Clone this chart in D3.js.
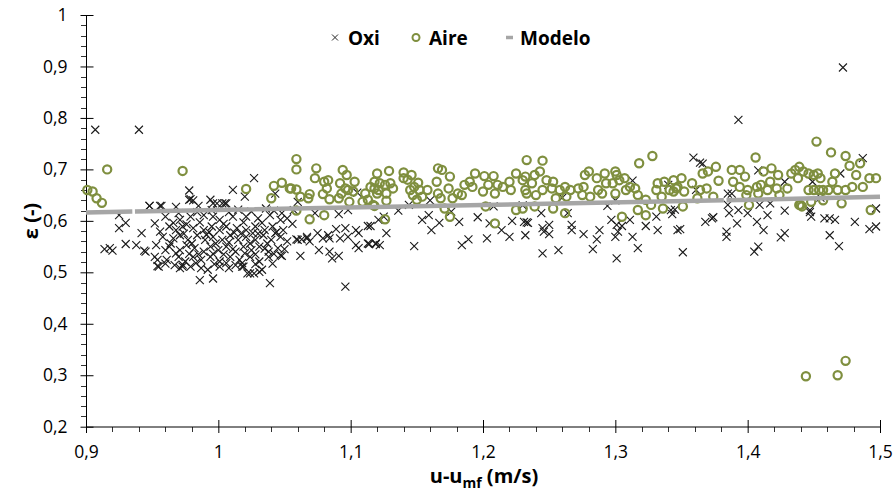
<!DOCTYPE html>
<html>
<head>
<meta charset="utf-8">
<script src="https://cdn.jsdelivr.net/npm/d3@7"></script>
<style>
  body { margin: 0; background: #fff; }
  text { font-family: "Open Sans", sans-serif; }
</style>
</head>
<body>
<script>
// axis ticks
const xTicks = [0.9, 1.0, 1.1, 1.2, 1.3, 1.4, 1.5];
const xTickLabels = ["0,9", "1", "1,1", "1,2", "1,3", "1,4", "1,5"];
const yTicks = [0.2, 0.3, 0.4, 0.5, 0.6, 0.7, 0.8, 0.9, 1.0];
const yTickLabels = ["0,2", "0,3", "0,4", "0,5", "0,6", "0,7", "0,8", "0,9", "1"];

// Oxi series [u-umf, eps]
const oxi = [
  [0.907,0.777],[0.940,0.777],[1.472,0.898],[1.393,0.796],[1.487,0.722],
  [0.925,0.611],[0.930,0.596],[0.925,0.586],[0.952,0.595],[0.948,0.629],[0.942,0.576],[0.930,0.555],[0.938,0.553],
  [0.914,0.545],[0.918,0.547],[0.920,0.542],[0.944,0.542],[0.952,0.530],[0.954,0.524],[0.954,0.512],[0.957,0.629],
  [0.953,0.553],[0.945,0.540],
  [0.978,0.659],[0.979,0.642],[0.981,0.640],[1.011,0.660],[0.968,0.627],[0.994,0.641],[0.996,0.634],[1.003,0.634],
  [1.005,0.634],[1.027,0.683],[1.020,0.647],[1.043,0.653],[1.060,0.637],[1.057,0.621],[1.048,0.615],[1.073,0.615],
  [1.091,0.613],[1.098,0.621],[1.121,0.602],
  [0.960,0.543],[0.960,0.517],[0.967,0.514],[0.973,0.511],[0.986,0.485],[0.996,0.488],[0.987,0.508],[1.008,0.508],
  [1.039,0.479],[1.096,0.472],[1.031,0.501],[1.024,0.498],[1.019,0.511],
  // dense cluster
  [0.978,0.641],[0.999,0.634],[1.006,0.634],[0.948,0.629],[0.956,0.629],[0.985,0.629],[0.995,0.621],[1.036,0.624],
  [0.960,0.608],[0.971,0.602],[0.979,0.608],[0.989,0.611],[0.996,0.608],[1.001,0.602],[1.011,0.608],[1.021,0.608],
  [1.030,0.605],[1.039,0.611],[1.047,0.602],
  [0.963,0.589],[0.968,0.582],[0.973,0.589],[0.981,0.586],[0.989,0.582],[0.995,0.589],[1.001,0.582],[1.006,0.589],
  [1.014,0.586],[1.021,0.582],[1.028,0.589],[1.035,0.582],[1.041,0.589],[1.049,0.582],[0.956,0.579],
  [0.958,0.569],[0.966,0.566],[0.971,0.572],[0.977,0.563],[0.984,0.572],[0.990,0.563],[0.996,0.569],[1.003,0.563],
  [1.009,0.572],[1.015,0.563],[1.021,0.569],[1.028,0.563],[1.034,0.572],[1.040,0.563],[1.047,0.569],[1.052,0.560],
  [1.060,0.563],[1.067,0.566],
  [0.963,0.550],[0.971,0.543],[0.976,0.553],[0.982,0.547],[0.989,0.540],[0.994,0.550],[1.000,0.543],[1.006,0.550],
  [1.013,0.540],[1.019,0.550],[1.025,0.543],[1.031,0.550],[1.038,0.540],[1.045,0.547],
  [0.961,0.524],[0.970,0.530],[0.975,0.521],[0.981,0.530],[0.987,0.524],[0.994,0.530],[1.001,0.521],[1.009,0.530],
  [1.016,0.524],[1.024,0.530],[1.031,0.521],[1.038,0.530],[1.047,0.533],
  [0.955,0.511],[0.971,0.508],[0.979,0.511],[0.992,0.505],[1.001,0.511],[1.018,0.511],[1.022,0.498],[1.027,0.498],
  [1.033,0.505],[1.018,0.518],
  [0.966,0.596],[0.976,0.593],[0.986,0.597],[0.993,0.578],[1.004,0.594],[1.012,0.577],[1.019,0.597],[1.026,0.576],
  [1.033,0.596],[1.044,0.578],[1.056,0.594],
  [0.964,0.556],[0.974,0.575],[0.980,0.556],[0.991,0.573],[0.998,0.556],[1.008,0.558],[1.017,0.575],[1.024,0.556],
  [1.030,0.575],[1.037,0.556],[1.043,0.576],[1.050,0.545],
  [0.968,0.537],[0.978,0.536],[0.985,0.535],[0.996,0.536],[1.004,0.535],[1.011,0.545],[1.020,0.537],[1.028,0.535],
  [1.035,0.546],[1.042,0.536],
  [0.973,0.515],[0.983,0.518],[0.997,0.516],[1.006,0.518],[1.013,0.514],[1.028,0.516],[1.041,0.517],
  [0.970,0.615],[0.984,0.617],[1.008,0.617],[1.015,0.622],[1.025,0.618],[1.042,0.620],[1.052,0.605],
  // 1.05 - 1.12
  [1.059,0.564],[1.063,0.564],[1.067,0.569],[1.069,0.560],[1.075,0.576],[1.079,0.566],[1.083,0.572],[1.084,0.566],
  [1.089,0.584],[1.092,0.566],[1.098,0.569],[1.096,0.586],[1.104,0.582],[1.106,0.576],[1.104,0.553],[1.106,0.547],
  [1.113,0.590],[1.113,0.556],[1.119,0.556],[1.076,0.543],[1.084,0.540],[1.086,0.527],[1.091,0.532],[1.062,0.532],
  [1.048,0.532],
  // 1.12 - 1.23
  [1.136,0.620],[1.144,0.631],[1.125,0.608],[1.154,0.602],[1.159,0.611],[1.167,0.596],[1.161,0.582],[1.127,0.576],
  [1.115,0.590],[1.119,0.555],[1.114,0.555],[1.148,0.551],[1.176,0.618],[1.182,0.598],[1.184,0.553],[1.189,0.564],
  [1.196,0.607],[1.203,0.566],[1.205,0.595],[1.208,0.628],[1.214,0.582],[1.220,0.569],[1.222,0.600],[1.231,0.598],
  [1.233,0.597],[1.232,0.572],[1.122,0.553],
  // 1.23 - 1.35
  [1.234,0.596],[1.245,0.586],[1.250,0.592],[1.246,0.579],[1.250,0.574],[1.245,0.537],[1.257,0.543],[1.244,0.615],
  [1.264,0.615],[1.267,0.592],[1.267,0.582],[1.276,0.574],[1.288,0.582],[1.286,0.564],[1.283,0.545],[1.294,0.629],
  [1.297,0.602],[1.301,0.592],[1.305,0.590],[1.302,0.579],[1.300,0.569],[1.311,0.602],[1.313,0.569],[1.301,0.527],
  [1.317,0.547],[1.323,0.590],[1.331,0.608],[1.332,0.582],[1.342,0.621],[1.343,0.613],[1.347,0.582],[1.313,0.678],
  // 1.35 - 1.5
  [1.359,0.723],[1.364,0.713],[1.366,0.711],[1.408,0.698],[1.361,0.660],[1.385,0.653],[1.388,0.653],[1.428,0.676],
  [1.449,0.676],[1.470,0.692],[1.345,0.622],[1.385,0.631],[1.386,0.615],[1.393,0.621],[1.400,0.615],[1.409,0.631],
  [1.417,0.634],[1.415,0.611],[1.428,0.620],[1.368,0.598],[1.373,0.605],[1.374,0.607],[1.392,0.595],[1.407,0.598],
  [1.412,0.582],[1.349,0.584],[1.384,0.579],[1.384,0.569],[1.425,0.568],[1.428,0.576],[1.351,0.539],[1.405,0.540],
  [1.408,0.550],[1.447,0.621],[1.448,0.608],[1.458,0.605],[1.462,0.605],[1.466,0.602],[1.462,0.572],[1.469,0.551],
  [1.497,0.624],[1.497,0.589],[1.492,0.584],[1.481,0.598],[1.447,0.617],
  [1.105,0.655],[1.160,0.640],[1.260,0.645],[1.340,0.670],[1.230,0.630],[1.455,0.645],[1.300,0.640]
];

// Aire series [u-umf, eps]
const aire = [
  [0.901,0.660],[0.905,0.657],[0.908,0.644],[0.912,0.635],[0.916,0.700],[0.973,0.697],
  [1.021,0.662],[1.040,0.644],[1.042,0.668],[1.048,0.674],[1.054,0.663],[1.059,0.661],[1.059,0.700],[1.059,0.720],
  [1.062,0.647],[1.059,0.620],[1.069,0.652],[1.068,0.644],[1.069,0.603],[1.074,0.702],[1.073,0.683],[1.080,0.676],
  [1.083,0.679],[1.082,0.663],[1.079,0.652],[1.084,0.642],[1.080,0.611],[1.055,0.663],
  [1.094,0.699],[1.097,0.689],[1.092,0.673],[1.096,0.663],[1.093,0.653],[1.098,0.660],[1.091,0.644],[1.099,0.637],
  [1.103,0.676],[1.102,0.657],[1.111,0.653],[1.113,0.641],[1.109,0.637],[1.120,0.692],[1.118,0.663],[1.120,0.653],
  [1.117,0.631],[1.122,0.673],[1.118,0.629],
  [1.129,0.697],[1.140,0.694],[1.146,0.689],[1.140,0.683],[1.143,0.680],[1.118,0.676],[1.115,0.666],[1.121,0.660],
  [1.126,0.670],[1.130,0.673],[1.132,0.663],[1.127,0.653],[1.127,0.639],[1.148,0.666],[1.151,0.674],[1.145,0.660],
  [1.152,0.660],[1.147,0.650],[1.154,0.647],[1.158,0.660],[1.150,0.641],[1.126,0.603],[1.166,0.702],[1.169,0.699],
  [1.165,0.676],[1.175,0.686],[1.166,0.653],[1.168,0.644],[1.174,0.663],[1.177,0.644],[1.181,0.653],[1.171,0.624],
  [1.175,0.608],[1.186,0.670],[1.190,0.676],[1.194,0.692],[1.192,0.666],[1.184,0.650],[1.201,0.687],[1.208,0.687],
  [1.204,0.670],[1.200,0.657],[1.211,0.670],[1.209,0.653],[1.215,0.666],[1.220,0.676],[1.225,0.692],[1.230,0.679],
  [1.233,0.718],[1.232,0.660],[1.202,0.628],[1.209,0.595],[1.225,0.621],[1.221,0.660],
  [1.245,0.717],[1.239,0.689],[1.232,0.686],[1.243,0.696],[1.248,0.679],[1.253,0.676],[1.237,0.673],[1.233,0.653],
  [1.240,0.650],[1.245,0.660],[1.252,0.663],[1.258,0.660],[1.262,0.666],[1.266,0.660],[1.255,0.644],[1.263,0.647],
  [1.239,0.628],[1.230,0.624],[1.253,0.624],[1.262,0.615],[1.272,0.663],[1.276,0.666],[1.280,0.696],[1.277,0.689],
  [1.275,0.650],[1.281,0.647],[1.287,0.660],[1.290,0.653],[1.286,0.683],[1.292,0.692],[1.300,0.696],[1.301,0.689],
  [1.293,0.673],[1.298,0.673],[1.303,0.679],[1.307,0.683],[1.300,0.653],[1.308,0.660],[1.305,0.608],[1.311,0.666],
  [1.315,0.663],[1.318,0.712],[1.328,0.726],[1.317,0.650],[1.323,0.641],[1.317,0.621],[1.323,0.611],[1.327,0.631],
  [1.332,0.673],[1.337,0.676],[1.331,0.660],[1.341,0.660],[1.344,0.679],[1.335,0.647],[1.336,0.624],[1.346,0.663],
  [1.452,0.754],[1.463,0.733],[1.474,0.726],[1.406,0.723],[1.350,0.683],[1.347,0.666],[1.344,0.657],[1.352,0.657],
  [1.358,0.673],[1.366,0.692],[1.370,0.696],[1.376,0.705],[1.378,0.678],[1.364,0.660],[1.369,0.663],[1.374,0.647],
  [1.362,0.644],[1.351,0.628],[1.388,0.699],[1.394,0.699],[1.398,0.686],[1.389,0.676],[1.394,0.666],[1.400,0.660],
  [1.399,0.650],[1.407,0.666],[1.410,0.670],[1.408,0.653],[1.401,0.631],[1.412,0.696],[1.418,0.702],[1.423,0.689],
  [1.417,0.676],[1.415,0.660],[1.422,0.663],[1.424,0.650],[1.430,0.663],[1.433,0.692],[1.436,0.699],[1.439,0.705],
  [1.438,0.683],[1.439,0.631],[1.442,0.696],[1.446,0.692],[1.450,0.689],[1.453,0.692],[1.455,0.683],[1.446,0.660],
  [1.450,0.660],[1.454,0.660],[1.457,0.660],[1.461,0.660],[1.466,0.692],[1.464,0.676],[1.468,0.660],[1.471,0.634],
  [1.474,0.660],[1.448,0.637],[1.457,0.640],[1.441,0.628],
  [1.444,0.298],[1.468,0.300],[1.474,0.328],[1.493,0.621],[1.497,0.683],[1.492,0.683],[1.485,0.712],[1.477,0.707],
  [1.482,0.689],[1.479,0.666],[1.487,0.666],[1.440,0.631]
];

// Modelo line (small breaks as in the source)
const modeloX = [0.900, 0.935, null, 0.937, 1.382, null, 1.384, 1.500];
const modeloY = [0.616, 0.618, null, 0.618, 0.640, null, 0.640, 0.647];

function drawChart() {
    let svg = d3.select("body").append("svg")
        .attr("width", 896)
        .attr("height", 493)
        .style("background-color", "white");

    let x = d3.scaleLinear().domain([0.9, 1.5]).range([86, 880]);
    let y = d3.scaleLinear().domain([0.2, 1.0]).range([426.7, 15]);

    // minor ticks every 0.02
    let xMinor = d3.range(0.92, 1.5, 0.02).filter(v => Math.abs(v * 10 - Math.round(v * 10)) > 0.01);
    let yMinor = d3.range(0.22, 1.0, 0.02).filter(v => Math.abs(v * 10 - Math.round(v * 10)) > 0.01);

    svg.append("g").selectAll("line").data(yMinor).enter().append("line")
        .attr("x1", 81).attr("x2", 86)
        .attr("y1", d => Math.round(y(d)) + 0.5).attr("y2", d => Math.round(y(d)) + 0.5)
        .attr("stroke", "#333").attr("stroke-width", 1);
    svg.append("g").selectAll("line").data(xMinor).enter().append("line")
        .attr("y1", 427).attr("y2", 432)
        .attr("x1", d => Math.round(x(d)) + 0.5).attr("x2", d => Math.round(x(d)) + 0.5)
        .attr("stroke", "#333").attr("stroke-width", 1);

    // y axis
    let yAxis = svg.append("g").attr("transform", "translate(86.5,0)")
        .call(d3.axisLeft(y).tickValues(yTicks).tickSize(6).tickPadding(13)
            .tickFormat((d, i) => yTickLabels[i]));
    yAxis.selectAll(".tick line").attr("x1", 7);
    yAxis.selectAll("text").style("font-size", "17.5px").attr("fill", "#000");
    yAxis.select(".domain").attr("d", "M0," + y(1.0) + "V" + y(0.2));

    // x axis
    let xAxis = svg.append("g").attr("transform", "translate(0,427)")
        .call(d3.axisBottom(x).tickValues(xTicks).tickSize(6).tickPadding(13)
            .tickFormat((d, i) => xTickLabels[i]));
    xAxis.selectAll(".tick line").attr("y1", -7);
    xAxis.selectAll("text").style("font-size", "17.5px").attr("fill", "#000");
    xAxis.select(".domain").attr("d", "M" + x(0.9) + ",0H" + x(1.5));

    // Oxi markers
    svg.append("g").selectAll("path").data(oxi).enter().append("path")
        .attr("transform", d => "translate(" + x(d[0]) + "," + y(d[1]) + ")")
        .attr("d", "M-4,-4L4,4M-4,4L4,-4")
        .attr("stroke", "#1a1a1a").attr("stroke-width", 1.1).attr("fill", "none");

    // Aire markers
    svg.append("g").selectAll("circle").data(aire).enter().append("circle")
        .attr("cx", d => x(d[0])).attr("cy", d => y(d[1])).attr("r", 4.1)
        .attr("fill", "none").attr("stroke", "#7f8f3f").attr("stroke-width", 2.2);

    // Modelo
    let modelo = modeloX.map((v, i) => [v, modeloY[i]]);
    let line = d3.line().defined(d => d[0] !== null)
        .x(d => x(d[0])).y(d => y(d[1]));
    svg.append("path").datum(modelo)
        .attr("d", line)
        .attr("fill", "none").attr("stroke", "#a6a6a6").attr("stroke-width", 4.5);

    // legend
    let lg = svg.append("g");
    lg.append("path").attr("transform", "translate(335,37.5)")
        .attr("d", "M-3,-3L3,3M-3,3L3,-3").attr("stroke", "#262626").attr("stroke-width", 1);
    lg.append("text").attr("x", 348).attr("y", 44.5).text("Oxi")
        .style("font-size", "19px").style("font-weight", "bold");
    lg.append("circle").attr("cx", 416).attr("cy", 37.5).attr("r", 3.5)
        .attr("fill", "none").attr("stroke", "#7f8f3f").attr("stroke-width", 2);
    lg.append("text").attr("x", 429).attr("y", 44.5).text("Aire")
        .style("font-size", "19px").style("font-weight", "bold");
    lg.append("line").attr("x1", 506).attr("x2", 513).attr("y1", 37.5).attr("y2", 37.5)
        .attr("stroke", "#a6a6a6").attr("stroke-width", 3.5);
    lg.append("text").attr("x", 520).attr("y", 44.5).text("Modelo")
        .style("font-size", "19px").style("font-weight", "bold");

    // axis titles
    let xt = svg.append("text").attr("x", 484).attr("y", 483).attr("text-anchor", "middle")
        .style("font-size", "20px").style("font-weight", "bold");
    xt.append("tspan").text("u-u");
    xt.append("tspan").attr("dy", 5).style("font-size", "14px").text("mf");
    xt.append("tspan").attr("dy", -5).text(" (m/s)");

    svg.append("text").attr("transform", "translate(38,221) rotate(-90)")
        .attr("text-anchor", "middle")
        .style("font-size", "20px").style("font-weight", "bold")
        .text("ε (-)");
}

document.addEventListener("DOMContentLoaded", drawChart);
</script>
</body>
</html>
